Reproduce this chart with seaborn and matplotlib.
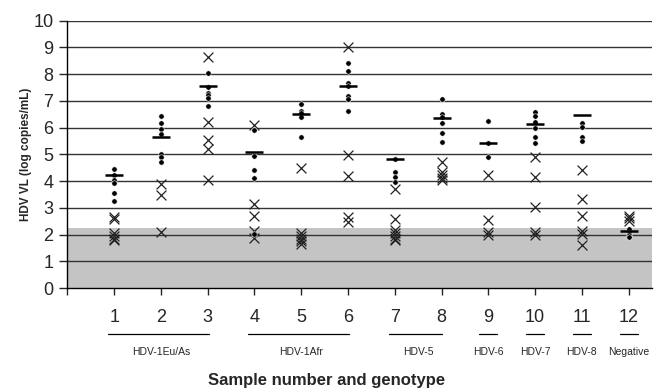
import pandas as pd
import numpy as np
import seaborn as sns
import matplotlib.pyplot as plt

# values (log copies/mL)
samples = list(range(1, 13))
dots = [
    [4.45, 4.23, 4.05, 3.95, 3.55, 3.25],
    [6.45, 6.16, 5.96, 5.78, 5.03, 4.89, 4.73],
    [8.03, 7.51, 7.31, 7.21, 7.12, 6.80],
    [5.92, 4.96, 4.42, 4.13, 2.03],
    [6.89, 6.64, 6.54, 6.39, 5.67],
    [8.42, 8.11, 7.67, 7.55, 7.19, 7.06, 6.61],
    [4.82, 4.36, 4.15, 3.98],
    [7.09, 6.53, 6.41, 6.19, 5.82, 5.47],
    [6.25, 5.42, 4.92],
    [6.58, 6.45, 6.23, 6.00, 5.64, 5.42],
    [6.17, 6.02, 5.64, 5.52],
    [2.20, 2.06, 1.98, 1.91],
]
crosses = [
    [2.68, 2.60, 2.05, 1.95, 1.85, 1.80],
    [3.90, 3.47, 2.09],
    [8.65, 6.21, 5.54, 5.19, 4.05],
    [6.10, 3.15, 2.70, 2.12, 1.87],
    [4.48, 2.05, 1.95, 1.85, 1.75, 1.65],
    [9.00, 4.99, 4.21, 2.65, 2.47],
    [3.70, 2.59, 2.18, 2.05, 1.95, 1.85, 1.80],
    [4.73, 4.36, 4.23, 4.11, 4.03],
    [4.23, 2.55, 2.09, 1.99],
    [4.92, 4.15, 3.03, 2.09, 2.00],
    [4.40, 3.32, 2.70, 2.15, 2.03, 1.62],
    [2.70, 2.62, 2.52],
]
reference = [4.23, 5.67, 7.56, 5.09, 6.51, 7.55, 4.82, 6.35, 5.42, 6.13, 6.46, 2.12]
detection_limit = 2.24

groups = ["HDV-1Eu/As", "HDV-1Afr", "HDV-5", "HDV-6", "HDV-7", "HDV-8", "Negative"]
group_span = [(1, 3), (4, 6), (7, 8), (9, 9), (10, 10), (11, 11), (12, 12)]

dot_df = pd.DataFrame([(s, v) for s, vals in zip(samples, dots) for v in vals],
                      columns=["sample", "value"])
cross_df = pd.DataFrame([(s, v) for s, vals in zip(samples, crosses) for v in vals],
                        columns=["sample", "value"])
ref_df = pd.DataFrame({"sample": samples, "value": reference})

sns.set_style("white")
plt.rcParams["font.family"] = ["Liberation Sans", "DejaVu Sans"]

fig = plt.figure(figsize=(6.54, 3.9), dpi=100)
ax = fig.add_axes([0.103, 0.261, 0.894, 0.686])

ax.axhspan(0, detection_limit, color="#c4c4c4", zorder=0, lw=0)
for yv in range(1, 11):
    ax.axhline(yv, color="#333333", lw=1.0, zorder=1)

sns.scatterplot(data=cross_df, x="sample", y="value", marker="x", s=50,
                color="#222222", linewidth=0.9, ax=ax, zorder=3)
sns.scatterplot(data=dot_df, x="sample", y="value", marker="o", s=15,
                color="black", edgecolor="white", linewidth=0.4, ax=ax, zorder=4)
sns.scatterplot(data=ref_df, x="sample", y="value", marker="_", s=150,
                color="black", linewidth=1.8, ax=ax, zorder=5)

ax.set_xlim(0, 12.5)
ax.set_ylim(0, 10)
ax.set_yticks(range(0, 11))
ax.set_xticks(range(0, 13))
ax.set_xticklabels([""] + [str(s) for s in samples])
ax.tick_params(axis="y", direction="out", length=6, width=1, labelsize=13, pad=4)
ax.tick_params(axis="x", direction="out", length=5, width=1, labelsize=13, pad=10)
ax.tick_params(left=True, bottom=True)
for side in ["top", "right"]:
    ax.spines[side].set_visible(False)
for side in ["left", "bottom"]:
    ax.spines[side].set_color("black")
    ax.spines[side].set_linewidth(1.0)

ax.set_xlabel("")
ax.set_ylabel("HDV VL (log copies/mL)", fontsize=8.5, fontweight="bold", labelpad=1)

trans = ax.get_xaxis_transform()
for name, (a, b) in zip(groups, group_span):
    if a == b:
        x0, x1 = a - 0.19, b + 0.19
    else:
        x0, x1 = a - 0.13, b + 0.02
    ax.plot([x0, x1], [-0.172, -0.172], color="black", lw=0.9,
            transform=trans, clip_on=False)
    ax.text((a + b) / 2, -0.237, name, transform=trans, ha="center",
            va="center", fontsize=7.5)

fig.text(0.5, 0.024, "Sample number and genotype", ha="center", va="center",
         fontsize=12, fontweight="bold")

fig.savefig("out.png", dpi=100)
